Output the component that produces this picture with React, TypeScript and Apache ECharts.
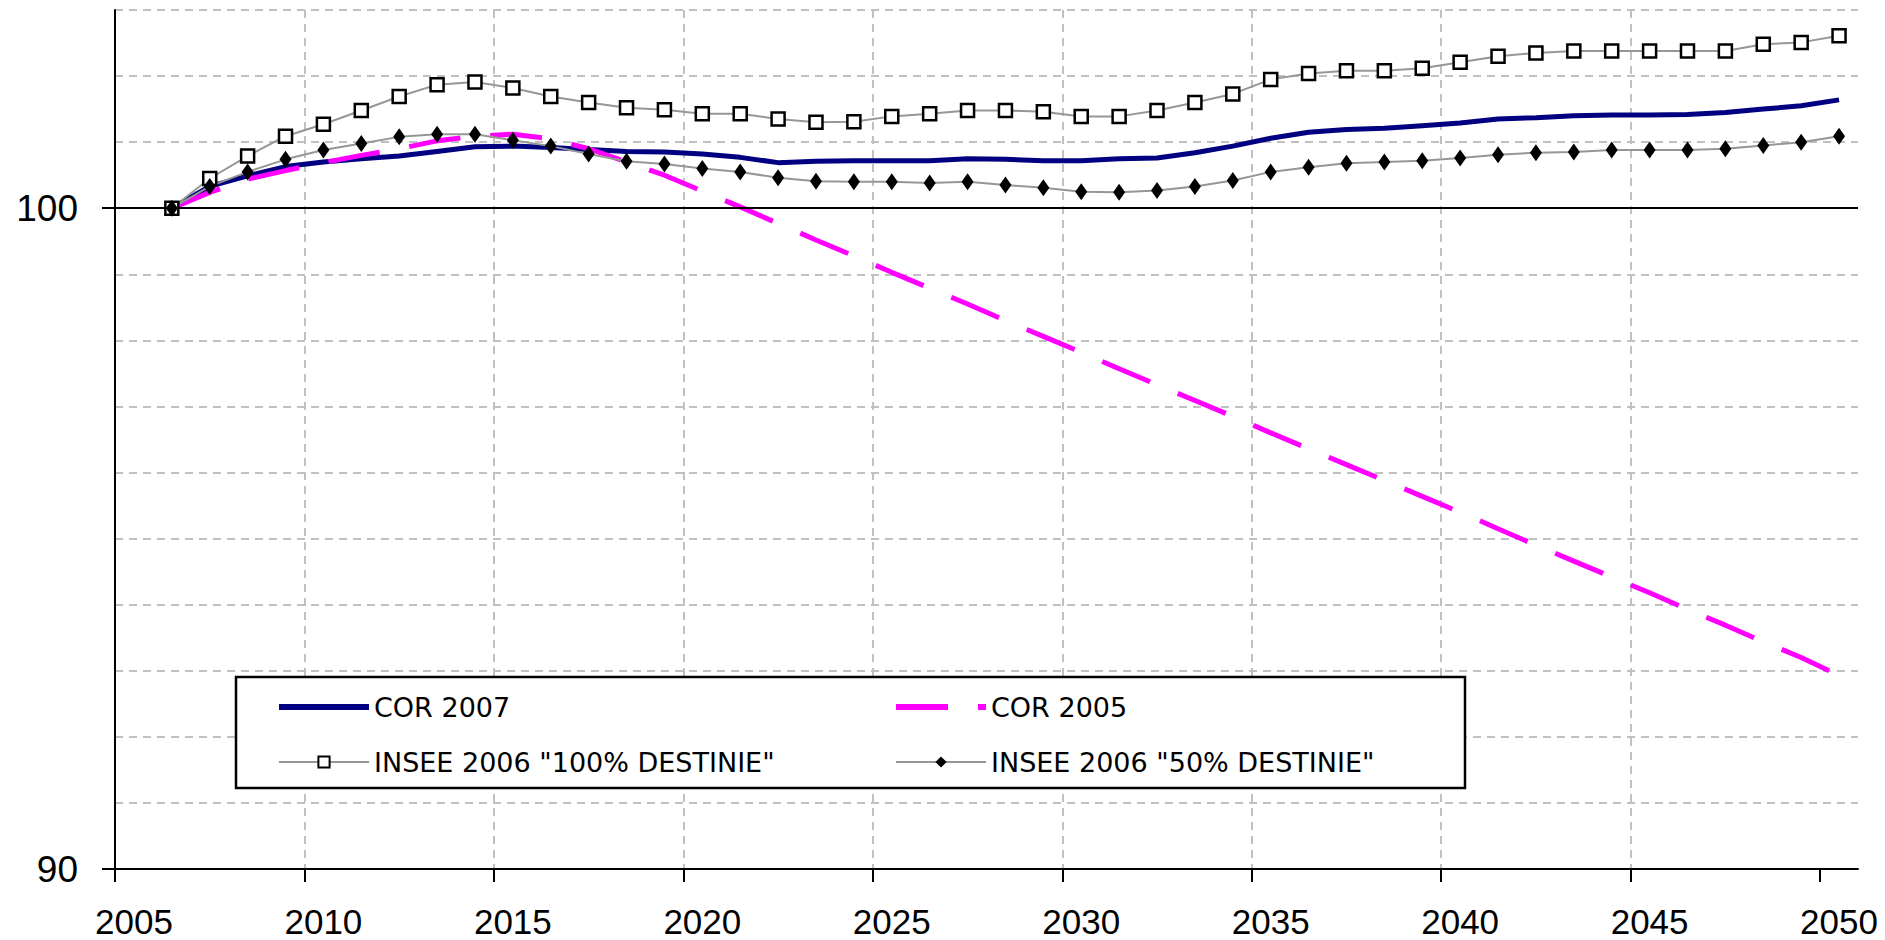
import React, { useEffect, useRef } from 'react';
import * as echarts from 'echarts';

// Categories (one per year; 2005 is an empty leading category)
const years = [
  '2005', '2006', '2007', '2008', '2009', '2010', '2011', '2012', '2013', '2014',
  '2015', '2016', '2017', '2018', '2019', '2020', '2021', '2022', '2023', '2024',
  '2025', '2026', '2027', '2028', '2029', '2030', '2031', '2032', '2033', '2034',
  '2035', '2036', '2037', '2038', '2039', '2040', '2041', '2042', '2043', '2044',
  '2045', '2046', '2047', '2048', '2049', '2050',
];

// Series values (2005 = no value, 2006 .. 2050)
const cor2007 = [
  null,
  100, 100.33, 100.49, 100.63, 100.7, 100.75, 100.79, 100.86, 100.93, 100.94,
  100.92, 100.89, 100.86, 100.85, 100.82, 100.77, 100.69, 100.71, 100.72, 100.72,
  100.72, 100.75, 100.74, 100.72, 100.72, 100.75, 100.76, 100.84, 100.94, 101.06,
  101.15, 101.19, 101.21, 101.25, 101.29, 101.35, 101.37, 101.4, 101.41, 101.41,
  101.42, 101.45, 101.5, 101.55, 101.64,
];

const cor2005 = [
  null,
  100, 100.24, 100.44, 100.57, 100.69, 100.8, 100.9, 101.02, 101.09, 101.12,
  101.05, 100.9, 100.7, 100.5, 100.26, 100.02, 99.77, 99.52, 99.28, 99.03,
  98.79, 98.55, 98.3, 98.06, 97.82, 97.57, 97.33, 97.09, 96.85, 96.6,
  96.36, 96.12, 95.88, 95.64, 95.4, 95.15, 94.9, 94.66, 94.42, 94.18,
  93.93, 93.69, 93.44, 93.2, 92.93,
];

const insee100 = [
  null,
  100, 100.45, 100.79, 101.09, 101.27, 101.48, 101.69, 101.87, 101.91, 101.82,
  101.69, 101.6, 101.52, 101.49, 101.43, 101.43, 101.35, 101.3, 101.31, 101.39,
  101.43, 101.48, 101.48, 101.46, 101.39, 101.39, 101.48, 101.6, 101.73, 101.95,
  102.04, 102.08, 102.08, 102.12, 102.21, 102.3, 102.35, 102.38, 102.38, 102.38,
  102.38, 102.38, 102.48, 102.51, 102.61,
];

const insee50 = [
  null,
  100, 100.33, 100.55, 100.74, 100.88, 100.98, 101.08, 101.12, 101.12, 101.03,
  100.94, 100.82, 100.71, 100.67, 100.6, 100.55, 100.46, 100.41, 100.4, 100.4,
  100.38, 100.4, 100.35, 100.31, 100.25, 100.24, 100.27, 100.33, 100.42, 100.55,
  100.62, 100.68, 100.7, 100.72, 100.76, 100.81, 100.84, 100.85, 100.88, 100.88,
  100.88, 100.9, 100.95, 101.0, 101.09,
];

// Tick values
const xTickYears = [2005, 2010, 2015, 2020, 2025, 2030, 2035, 2040, 2045, 2050];
const yLabelValues = [90, 100];

const NAME_COR2007 = 'COR 2007';
const NAME_COR2005 = 'COR 2005';
const NAME_I100 = 'INSEE 2006 "100% DESTINIE"';
const NAME_I50 = 'INSEE 2006 "50% DESTINIE"';

const axisFont = "'Liberation Sans', Arial, sans-serif";
const legendFont = "'DejaVu Sans', Verdana, sans-serif";

const gridDash = { color: '#c0c0c0', width: 2, type: [8, 6] as number[] };

export default function App() {
  const ref = useRef<HTMLDivElement | null>(null);

  useEffect(() => {
    if (!ref.current) return;
    const chart = echarts.init(ref.current, undefined, { renderer: 'svg' });

    const legendText = { fontFamily: legendFont, fontSize: 27, color: '#000', lineHeight: 30 };

    const option: any = {
      animation: false,
      backgroundColor: '#ffffff',
      grid: { left: 115, right: 27, top: 10, bottom: 71, containLabel: false },
      xAxis: [
        {
          type: 'category',
          data: years,
          boundaryGap: true,
          position: 'bottom',
          axisLine: { show: true, lineStyle: { color: '#000', width: 2 } },
          axisTick: { show: false },
          axisLabel: {
            interval: 4,
            margin: 35,
            fontSize: 35,
            lineHeight: 34,
            fontFamily: axisFont,
            color: '#000',
          },
          splitLine: { show: false },
        },
        {
          type: 'value',
          min: 2005,
          max: 2051,
          interval: 5,
          position: 'bottom',
          axisLine: { show: false },
          axisTick: { show: true, length: 13, customValues: xTickYears, lineStyle: { color: '#000', width: 2 } },
          axisLabel: { show: false },
          splitLine: { show: true, showMaxLine: false, lineStyle: gridDash },
        },
      ],
      yAxis: [
        {
          type: 'value',
          min: 90,
          max: 103,
          interval: 1,
          position: 'left',
          axisLine: { show: true, lineStyle: { color: '#000', width: 2 } },
          axisTick: { show: false },
          axisLabel: { show: false },
          splitLine: { show: true, lineStyle: gridDash },
        },
        {
          type: 'value',
          min: 90,
          max: 103,
          position: 'left',
          axisLine: { show: false },
          axisTick: { show: true, length: 13, customValues: yLabelValues, lineStyle: { color: '#000', width: 2 } },
          axisLabel: { customValues: yLabelValues, margin: 37, fontSize: 37, fontFamily: axisFont, color: '#000' },
          splitLine: { show: false },
        },
      ],
      legend: [
        {
          orient: 'vertical',
          left: 276,
          top: 692,
          padding: 0,
          itemWidth: 90,
          itemHeight: 14,
          itemGap: 25,
          selectedMode: false,
          textStyle: legendText,
          data: [
            { name: NAME_COR2007, itemStyle: { opacity: 0 }, lineStyle: { width: 6 } },
            { name: NAME_I100 },
          ],
        },
        {
          orient: 'vertical',
          left: 893,
          top: 692,
          padding: 0,
          itemWidth: 90,
          itemHeight: 14,
          itemGap: 25,
          selectedMode: false,
          textStyle: legendText,
          data: [
            { name: NAME_COR2005, itemStyle: { opacity: 0 }, lineStyle: { width: 6 } },
            { name: NAME_I50 },
          ],
        },
      ],
      graphic: [
        {
          type: 'rect',
          x: 236,
          y: 677,
          z: 3,
          shape: { width: 1229, height: 111 },
          style: { fill: '#fff', stroke: '#000', lineWidth: 2.5 },
          silent: true,
        },
      ],
      series: [
        {
          name: NAME_COR2007,
          type: 'line',
          xAxisIndex: 0,
          yAxisIndex: 0,
          data: cor2007,
          symbol: 'none',
          lineStyle: { color: '#000080', width: 5 },
          itemStyle: { color: '#000080' },
          markLine: {
            silent: true,
            symbol: 'none',
            label: { show: false },
            lineStyle: { color: '#000', width: 2, type: 'solid' },
            data: [{ yAxis: 100 }],
          },
        },
        {
          name: NAME_COR2005,
          type: 'line',
          xAxisIndex: 0,
          yAxisIndex: 0,
          data: cor2005,
          symbol: 'none',
          lineStyle: { color: '#ff00ff', width: 5, type: [52, 30] },
          itemStyle: { color: '#ff00ff' },
        },
        {
          name: NAME_I100,
          type: 'line',
          xAxisIndex: 0,
          yAxisIndex: 0,
          data: insee100,
          symbol: 'rect',
          symbolSize: 13,
          showAllSymbol: true,
          lineStyle: { color: '#969696', width: 2 },
          itemStyle: { color: '#ffffff', borderColor: '#000', borderWidth: 2.5 },
        },
        {
          name: NAME_I50,
          type: 'line',
          xAxisIndex: 0,
          yAxisIndex: 0,
          data: insee50,
          symbol: 'diamond',
          symbolSize: [12, 17],
          showAllSymbol: true,
          lineStyle: { color: '#969696', width: 2 },
          itemStyle: { color: '#000000' },
        },
      ],
    };

    chart.setOption(option);
    return () => chart.dispose();
  }, []);

  return (
    <div
      ref={ref}
      style={{ position: 'fixed', left: 0, top: 0, width: 1885, height: 940, background: '#fff' }}
    />
  );
}
